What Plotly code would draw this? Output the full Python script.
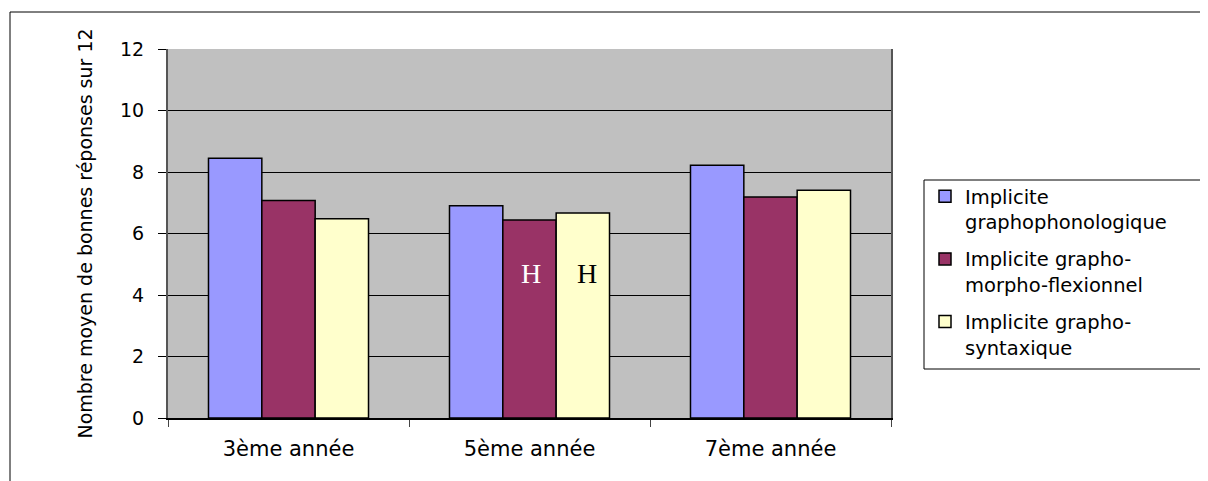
import plotly.graph_objects as go

categories = ["3ème année", "5ème année", "7ème année"]
series_names = ["Implicite<br>graphophonologique",
                "Implicite grapho-<br>morpho-flexionnel",
                "Implicite grapho-<br>syntaxique"]
graphophonologique = [8.45, 6.90, 8.22]
morpho_flexionnel = [7.07, 6.44, 7.19]
syntaxique = [6.48, 6.67, 7.41]
colors = ["#9999FF", "#993366", "#FFFFCC"]

annot_texts = ["H", "H"]
annot_cats = ["5ème année", "5ème année"]
annot_vals = [4.7, 4.7]
annot_colors = ["white", "black"]
annot_shift = [1, 57]

# the page body adds an 8px offset; work in reference pixels minus 8
OFF = 8
W, H = 1208 - OFF, 481 - OFF
L, T = 168 - OFF, 49 - OFF
R, B = W - (891 - OFF), H - (418 - OFF)
pw, ph = W - L - R, H - T - B


def px_x(x):
    return (x - OFF - L) / pw


def px_y(y):
    return (H - B - (y - OFF)) / ph


fig = go.Figure()
for name, vals, col in zip(series_names, [graphophonologique, morpho_flexionnel, syntaxique], colors):
    fig.add_trace(go.Bar(
        x=categories, y=vals, name=name, legendgroup=name,
        marker=dict(color=col, line=dict(color="black", width=1.5)),
    ))

for t, c, v, col, sh in zip(annot_texts, annot_cats, annot_vals, annot_colors, annot_shift):
    fig.add_annotation(x=c, y=v, text=t, showarrow=False, xshift=sh,
                       font=dict(family="Liberation Serif", size=28, color=col))

# outer chart frame
fig.add_shape(type="rect", xref="paper", yref="paper",
              x0=px_x(10), x1=px_x(1240), y0=px_y(520), y1=px_y(12),
              line=dict(color="black", width=1), fillcolor="rgba(0,0,0,0)", layer="below")
# legend frame
fig.add_shape(type="rect", xref="paper", yref="paper",
              x0=px_x(924), x1=px_x(1206.5), y0=px_y(369), y1=px_y(180),
              line=dict(color="black", width=1), fillcolor="rgba(0,0,0,0)", layer="above")

fig.update_layout(
    width=W, height=H,
    margin=dict(l=L, r=R, t=T, b=B, autoexpand=False),
    paper_bgcolor="white", plot_bgcolor="#C0C0C0",
    barmode="group", bargap=0.336, bargroupgap=0,
    font=dict(family="DejaVu Sans", size=19, color="black"),
    legend=dict(x=px_x(925), y=px_y(177), xanchor="left", yanchor="top",
                borderwidth=0, bgcolor="rgba(0,0,0,0)",
                font=dict(family="DejaVu Sans", size=19.5),
                valign="top", tracegroupgap=9),
    xaxis=dict(showline=True, linecolor="black", linewidth=1.5, ticks="outside",
               ticklen=7, tickcolor="#444", tickson="boundaries", showgrid=False,
               ticklabelstandoff=11, tickfont=dict(size=21)),
    yaxis=dict(range=[0, 12], dtick=2, showgrid=True, gridcolor="black", gridwidth=1,
               showline=True, linecolor="#555", linewidth=2, mirror=True,
               ticks="outside", ticklen=8, tickcolor="black", zeroline=False,
               ticklabelstandoff=10, tickfont=dict(size=19),
               title=dict(text="Nombre moyen de bonnes réponses sur 12",
                          font=dict(family="DejaVu Sans", size=19), standoff=22)),
)

fig.write_html("out.html")
